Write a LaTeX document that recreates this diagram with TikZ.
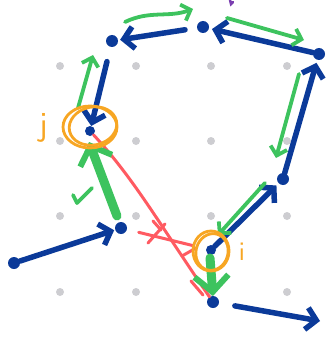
\documentclass[tikz,border=0pt]{standalone}
\usepackage{tikz}
\usetikzlibrary{arrows.meta,shapes.geometric,positioning}
\definecolor{inkblue}{HTML}{0B3A99}
\definecolor{inkgreen}{HTML}{3DC35E}
\definecolor{inkred}{HTML}{FF5A61}
\definecolor{inkorange}{HTML}{F7A623}
\definecolor{inkpurple}{HTML}{7B3FB0}
\definecolor{gridgray}{HTML}{CDCDD1}
\tikzset
{
    vertex/.style    = {circle, fill=inkblue, inner sep=0pt, minimum size=12pt},
    gridpt/.style    = {circle, fill=gridgray, inner sep=0pt, minimum size=8pt},
    blueline/.style  = {draw=inkblue, line width=5.5pt, line cap=round, line join=round, -{Straight Barb[length=10pt,width=22pt]}},
    greenline/.style = {draw=inkgreen, line width=3.8pt, line cap=round, line join=round, -{Straight Barb[length=8pt,width=17pt]}},
    fatgreen/.style  = {draw=inkgreen, line width=9pt, line cap=round, line join=round, -{Straight Barb[length=16pt,width=34pt,line width=6pt]}},
    redline/.style   = {draw=inkred, line width=3pt, line cap=round, line join=round},
    ring/.style      = {ellipse, draw=inkorange, line width=2.8pt, inner sep=0pt},
    letter/.style    = {text=inkorange, font=\sffamily\fontsize{34}{34}\selectfont}
}
\begin{document}
\begin{tikzpicture}[x=1pt, y=-1pt]
    \useasboundingbox (0,0) rectangle (328,337);
    \foreach \gx in {60,136,211,287}
        \foreach \gy in {66,141,216,292}
            \node [gridpt] at (\gx,\gy) {};

    \node [vertex] (top)  at (203,27)  {};
    \node [vertex] (tl)   at (112,41)  {};
    \node [vertex] (tr)   at (319,54)  {};
    \node [vertex] (r)    at (283,179) {};
    \node [vertex, minimum size=10pt] (i) at (211,250) {};
    \node [vertex, minimum size=10pt] (j) at (90,131)  {};
    \node [vertex] (bot)  at (213,302) {};
    \node [vertex] (left) at (14,263)  {};
    \node [vertex] (mid)  at (121,228) {};
    \coordinate (br) at (320,321);

    \coordinate (ga1) at (125,22);  \coordinate (ga2) at (193,9);
    \coordinate (gb1) at (227,18);  \coordinate (gb2) at (304,40);
    \coordinate (gc1) at (299,74);  \coordinate (gc2) at (276,158);
    \coordinate (gd1) at (265,183); \coordinate (gd2) at (218,235);
    \coordinate (ge1) at (210,258); \coordinate (ge2) at (213,296);
    \coordinate (gf1) at (117,216); \coordinate (gf2) at (89,142);
    \coordinate (gg1) at (78,108);  \coordinate (gg2) at (93,55);

    \draw [redline] (j) .. controls (135,180) and (160,225) .. (bot);
    \draw [redline, shorten <=12pt, shorten >=14pt] (mid) -- (i);
    \draw [redline] (148,243) -- (165,224);
    \draw [redline] (153,221) -- (161,230);
    \draw [redline] (182,256) -- (196,248);
    \draw [redline] (191,281) -- (203,295);

    \draw [blueline, shorten <=12pt, shorten >=2pt] (top) -- (tl);
    \draw [blueline, shorten >=3pt] (tr) -- (top);
    \draw [blueline, shorten >=3pt] (r) -- (tr);
    \draw [blueline, shorten >=3pt] (i) -- (r);
    \draw [blueline, shorten <=15pt] (tl) -- (j);
    \draw [blueline, shorten >=1pt] (left) -- (mid);
    \draw [blueline, shorten <=16pt] (bot) -- (br);

    \draw [greenline] (ga1) .. controls (150,10) and (168,18) .. (ga2);
    \draw [greenline] (gb1) -- (gb2);
    \draw [greenline] (gc1) -- (gc2);
    \draw [greenline] (gd1) -- (gd2);
    \draw [greenline] (gg1) -- (gg2);
    \draw [fatgreen] (ge1) -- (ge2);
    \draw [fatgreen] (gf1) -- (gf2);
    \draw [greenline, -] (73,195) -- (77,203) -- (92,188);

    \node [ring, minimum width=54pt, minimum height=42pt] (jring) at ([yshift=4pt]j) {};
    \node [ring, minimum width=48pt, minimum height=38pt, rotate=12] at ([xshift=3pt,yshift=5pt]j) {};
    \node [ring, minimum width=36pt, minimum height=40pt] (iring) at ([yshift=-1pt]i) {};
    \node [ring, minimum width=32pt, minimum height=37pt, rotate=-15] at ([xshift=1pt,yshift=-2pt]i) {};
    \node [letter] (jlabel) at (44,128) {j};
    \node [letter, font=\sffamily\fontsize{27}{27}\selectfont] (ilabel) at (242,252) {i};

    \draw [draw=inkpurple, line width=2.5pt, line cap=round] (230,0) -- (231,4) -- (233,2);
\end{tikzpicture}
\end{document}
